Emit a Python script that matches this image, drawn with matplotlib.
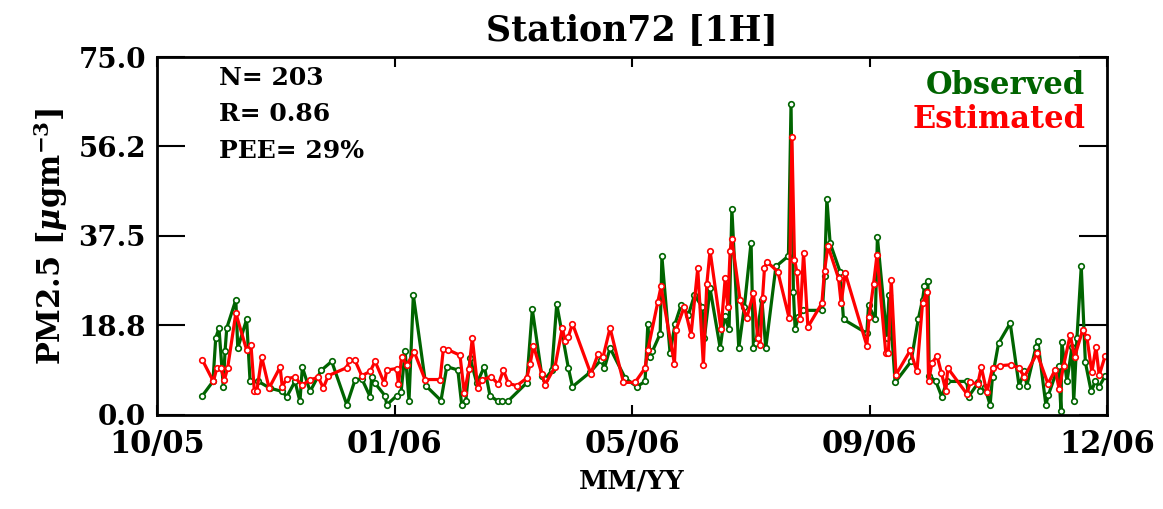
import matplotlib
matplotlib.use("Agg")
import matplotlib.pyplot as plt

# days since axis start (axis spans 440 days, labels at equal steps)
tick_days = [0, 110, 220, 330, 440]
tick_labels = ["10/05", "01/06", "05/06", "09/06", "12/06"]
yticks = [0.0, 18.75, 37.5, 56.25, 75.0]
ytick_labels = ["0.0", "18.8", "37.5", "56.2", "75.0"]

obs_day = [21.0, 25.9, 27.2, 28.7, 30.7, 31.5, 32.3, 36.5, 37.4, 41.5, 43.1, 46.9,
           52.3, 58.0, 60.1, 63.9, 66.2, 67.3, 70.9, 76.0, 80.9, 87.9, 91.7, 94.8,
           98.7, 99.4, 101.0, 105.6, 106.4, 111.0, 113.0, 114.9, 116.7, 118.7, 124.5,
           131.5, 134.2, 139.3, 141.1, 143.0, 145.0, 148.1, 151.6, 154.2, 158.1, 159.7,
           162.4, 171.2, 173.8, 178.2, 179.7, 182.8, 185.1, 190.5, 192.4, 200.5, 205.6,
           207.2, 209.8, 216.8, 222.2, 226.0, 227.3, 228.3, 229.4, 233.0, 233.8, 237.6,
           239.9, 242.7, 246.1, 248.9, 252.3, 253.5, 256.1, 260.8, 262.8, 264.9, 266.2,
           269.4, 272.0, 275.1, 276.2, 277.3, 280.1, 281.9, 286.6, 292.4, 293.6, 294.7,
           295.5, 297.0, 299.3, 308.1, 309.1, 310.2, 311.7, 316.3, 317.9, 328.7, 329.5,
           332.6, 333.6, 338.0, 339.0, 341.8, 349.2, 352.5, 354.5, 355.4, 357.0, 357.6,
           360.7, 363.4, 365.8, 375.0, 375.8, 380.4, 381.2, 383.2, 385.8, 386.9, 389.7,
           395.1, 399.2, 401.7, 402.8, 407.0, 407.9, 411.6, 412.8, 417.5, 418.6, 419.0,
           421.4, 423.7, 424.5, 426.0, 428.0, 429.9, 432.6, 434.5, 436.3, 439.1]
obs_pm = [4.0, 7.0, 16.1, 18.2, 5.9, 13.3, 18.2, 24.1, 14.0, 20.0, 7.0, 7.0,
          5.6, 4.9, 3.8, 7.0, 2.8, 10.0, 4.9, 9.3, 11.2, 2.1, 7.3, 7.6,
          3.8, 7.9, 6.6, 4.0, 2.1, 4.0, 4.7, 13.3, 3.0, 25.1, 6.1,
          3.0, 10.1, 9.4, 2.1, 3.0, 11.9, 6.6, 10.1, 4.0, 2.8, 2.8,
          2.8, 6.7, 22.1, 8.2, 7.5, 9.3, 23.2, 9.8, 5.9, 8.9, 11.5,
          9.8, 14.0, 7.7, 5.9, 7.0, 19.1, 12.2, 13.3, 17.0, 33.2, 12.9,
          19.1, 23.0, 21.0, 25.1, 22.7, 16.1, 26.5, 14.0, 20.7, 17.9, 43.2,
          14.0, 22.7, 36.1, 14.0, 15.0, 24.1, 14.0, 31.1, 33.3, 65.2, 25.8,
          17.9, 20.6, 21.9, 21.9, 29.1, 45.2, 36.0, 30.0, 20.0, 17.1, 23.0,
          20.0, 37.2, 16.1, 25.1, 6.8, 11.2, 20.0, 24.1, 27.0, 28.1, 8.2,
          7.0, 3.8, 7.0, 7.0, 3.8, 6.8, 4.9, 5.9, 2.1, 8.0, 15.0,
          19.2, 6.1, 9.1, 6.1, 14.2, 15.4, 2.1, 4.2, 10.3, 0.9, 15.2,
          7.0, 14.3, 2.8, 16.1, 31.1, 11.0, 4.9, 7.0, 5.9, 8.2]

est_day = [21.0, 26.1, 27.7, 29.6, 31.2, 32.7, 36.5, 41.5, 43.5, 45.1, 46.2, 48.5,
           51.9, 57.0, 58.0, 60.1, 63.9, 67.0, 70.9, 74.7, 77.0, 79.3, 87.9, 88.9,
           91.7, 94.8, 98.7, 101.0, 105.3, 106.4, 111.0, 111.8, 113.3, 115.6, 119.2,
           124.1, 131.1, 132.6, 134.9, 140.3, 142.3, 144.5, 146.0, 148.5, 150.4, 154.7,
           158.1, 160.4, 162.7, 166.6, 171.2, 172.8, 174.3, 178.2, 179.7, 184.3, 187.7,
           189.0, 190.5, 192.4, 200.9, 204.3, 206.6, 209.8, 216.0, 221.4, 226.0, 227.3,
           231.9, 233.4, 239.6, 240.3, 244.2, 247.3, 250.4, 253.0, 254.6, 256.1, 261.2,
           263.1, 264.3, 265.4, 266.2, 270.0, 273.1, 276.2, 278.2, 279.3, 280.4, 281.3,
           282.4, 287.5, 292.7, 294.0, 295.2, 296.3, 297.8, 299.4, 301.4, 307.9, 309.1,
           310.7, 315.6, 316.8, 318.7, 328.7, 329.8, 331.8, 333.4, 337.5, 338.7, 340.0,
           342.2, 348.8, 351.9, 354.5, 356.5, 357.3, 358.8, 361.2, 363.2, 365.3, 366.2,
           375.0, 376.6, 380.1, 381.7, 384.3, 386.9, 390.5, 395.6, 399.0, 401.7, 407.5,
           412.6, 415.9, 417.8, 419.8, 422.9, 424.9, 428.6, 430.6, 432.9, 434.8, 436.3,
           439.1]
est_pm = [11.5, 7.0, 9.8, 9.8, 7.3, 9.8, 21.3, 13.6, 14.7, 4.9, 4.9, 12.1,
          5.6, 10.0, 5.9, 7.6, 7.9, 6.2, 7.3, 7.9, 5.6, 8.2, 9.9, 11.4,
          11.4, 8.2, 9.1, 11.2, 6.6, 9.4, 9.7, 6.4, 12.2, 10.5, 13.1,
          7.4, 7.4, 13.8, 13.6, 12.5, 4.5, 9.7, 16.1, 5.7, 7.3, 8.0,
          6.4, 9.4, 6.6, 6.1, 7.7, 10.7, 14.5, 8.6, 6.3, 10.1, 18.2,
          15.4, 16.4, 19.1, 8.6, 12.8, 12.2, 18.2, 6.8, 6.8, 9.8, 13.6,
          23.7, 26.9, 10.7, 17.8, 22.7, 16.8, 30.7, 10.5, 27.4, 34.4, 17.9,
          28.6, 22.7, 34.4, 36.8, 24.1, 20.3, 25.5, 16.1, 14.7, 24.4, 30.7,
          32.1, 30.0, 20.3, 58.2, 32.5, 30.0, 20.0, 34.0, 18.4, 23.4, 30.2,
          35.4, 28.6, 23.4, 29.7, 14.5, 20.6, 27.4, 33.5, 12.9, 12.9, 28.3,
          8.4, 13.5, 9.1, 23.4, 25.8, 7.0, 10.8, 12.4, 8.8, 5.1, 9.8,
          4.4, 6.8, 6.5, 10.0, 4.7, 9.8, 10.3, 10.5, 9.8, 8.0, 12.9,
          6.5, 9.4, 5.4, 10.3, 16.8, 12.1, 17.7, 16.3, 8.9, 14.2, 8.3,
          12.4]

GREEN = "#006400"
RED = "#ff0000"
FONT = "DejaVu Serif"

plt.rcParams['font.family'] = FONT
plt.rcParams['font.weight'] = 'bold'
plt.rcParams['mathtext.fontset'] = 'dejavuserif'

fig = plt.figure(figsize=(11.63, 5.09), dpi=100)
ax = fig.add_axes([0.135, 0.185, 0.817, 0.703])

ax.plot(obs_day, obs_pm, color=GREEN, lw=2.3, marker='o', ms=4,
        mfc='white', mec=GREEN, mew=1.2)
ax.plot(est_day, est_pm, color=RED, lw=2.3, marker='o', ms=4,
        mfc='white', mec=RED, mew=1.2)

ax.set_xlim(0, 440)
ax.set_ylim(0, 75)
ax.set_xticks(tick_days)
ax.set_xticklabels(tick_labels, fontsize=22, fontweight='bold')
ax.set_yticks(yticks)
ax.set_yticklabels(ytick_labels, fontsize=20, fontweight='bold')
ax.tick_params(axis='y', direction='in', length=20, width=1.5, right=True, pad=8)
ax.tick_params(axis='x', direction='in', length=7, width=1.5, top=True, pad=10)
for s in ax.spines.values():
    s.set_linewidth(2)

ax.set_title("Station72 [1H]", fontsize=25, fontweight='bold', pad=12)
ax.set_xlabel("MM/YY", fontsize=19, fontweight='bold', labelpad=6)
ax.set_ylabel(r"PM2.5 [$\mu$gm$^{\mathbf{-3}}$]", fontsize=22,
              fontweight='bold', labelpad=6)

ax.text(0.065, 0.975, "N= 203\nR= 0.86\nPEE= 29%", transform=ax.transAxes,
        fontsize=18, fontweight='bold', va='top', ha='left', linespacing=1.65)
ax.text(0.977, 0.965, "Observed", transform=ax.transAxes, color=GREEN,
        fontsize=22, fontweight='bold', va='top', ha='right')
ax.text(0.977, 0.87, "Estimated", transform=ax.transAxes, color=RED,
        fontsize=22, fontweight='bold', va='top', ha='right')

fig.savefig("out.png", dpi=100)
